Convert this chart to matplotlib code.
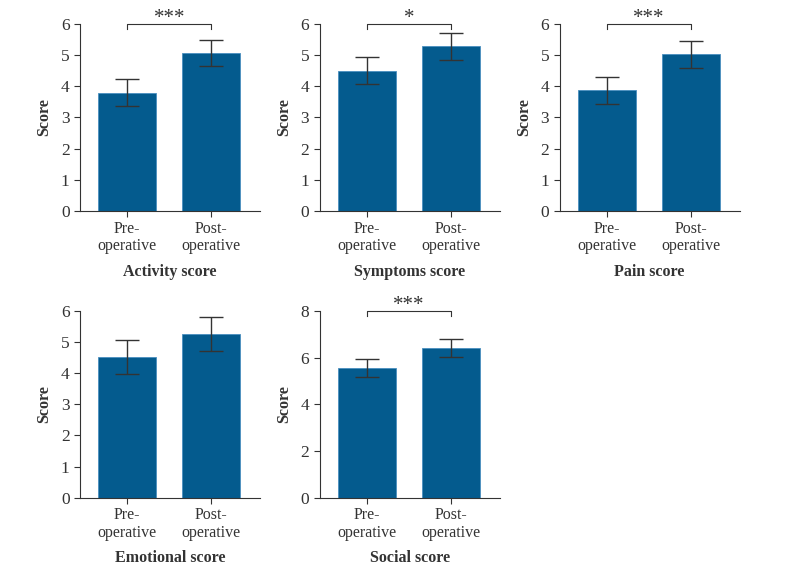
import numpy as np
import matplotlib.pyplot as plt

plt.rcParams['font.family'] = ['Liberation Serif', 'DejaVu Serif']

groups = ['Pre-\noperative', 'Post-\noperative']
titles = ['Activity score', 'Symptoms score', 'Pain score', 'Emotional score', 'Social score']
means = [[3.79, 5.07], [4.50, 5.28], [3.87, 5.03], [4.51, 5.25], [5.57, 6.41]]
errs = [[0.43, 0.43], [0.43, 0.43], [0.44, 0.44], [0.55, 0.55], [0.39, 0.38]]
stars = ['***', '*', '***', '', '***']
ymax = [6, 6, 6, 6, 8]
yticks = [np.arange(0, 7, 1)] * 4 + [np.arange(0, 9, 2)]

bar_color = '#045b8e'
ink = '#333333'

fig = plt.figure(figsize=(7.87, 5.73), dpi=100)
lefts = [0.1017, 0.406, 0.711]
positions = [(lefts[0], 0.632), (lefts[1], 0.632), (lefts[2], 0.632),
             (lefts[0], 0.1314), (lefts[1], 0.1314)]

for i in range(5):
    ax = fig.add_axes([positions[i][0], positions[i][1], 0.229, 0.326])
    x = np.arange(len(groups))
    ax.bar(x, means[i], width=0.69, color=bar_color, edgecolor='#4a8fbf', linewidth=0.6, zorder=2)
    ax.errorbar(x, means[i], yerr=errs[i], fmt='none', ecolor=ink, elinewidth=1.0,
                capsize=8.5, capthick=1.0, zorder=3)
    ax.set_xlim(-0.56, 1.58)
    ax.set_ylim(0, ymax[i])
    ax.set_yticks(yticks[i])
    ax.set_xticks(x)
    ax.set_xticklabels(groups, fontsize=11.5, color=ink, linespacing=1.1)
    ax.tick_params(axis='y', labelsize=12.5, colors=ink, length=4, width=0.8)
    ax.tick_params(axis='x', colors=ink, length=4, width=0.8, pad=3)
    for s in ['top', 'right']:
        ax.spines[s].set_visible(False)
    for s in ['left', 'bottom']:
        ax.spines[s].set_color(ink)
        ax.spines[s].set_linewidth(0.8)
    ax.set_ylabel('Score', fontsize=11.5, fontweight='bold', color=ink, labelpad=6)
    ax.set_xlabel(titles[i], fontsize=11.5, fontweight='bold', color=ink, labelpad=7)
    if stars[i]:
        top = ymax[i]
        drop = 0.028 * ymax[i]
        ax.plot([0, 0, 1, 1], [top - drop, top, top, top - drop], color=ink, lw=0.8, clip_on=False)
        ax.text(0.5, top - 0.02 * ymax[i], stars[i], ha='center', va='bottom', fontsize=15, color=ink)

fig.savefig('out.png', dpi=100)
